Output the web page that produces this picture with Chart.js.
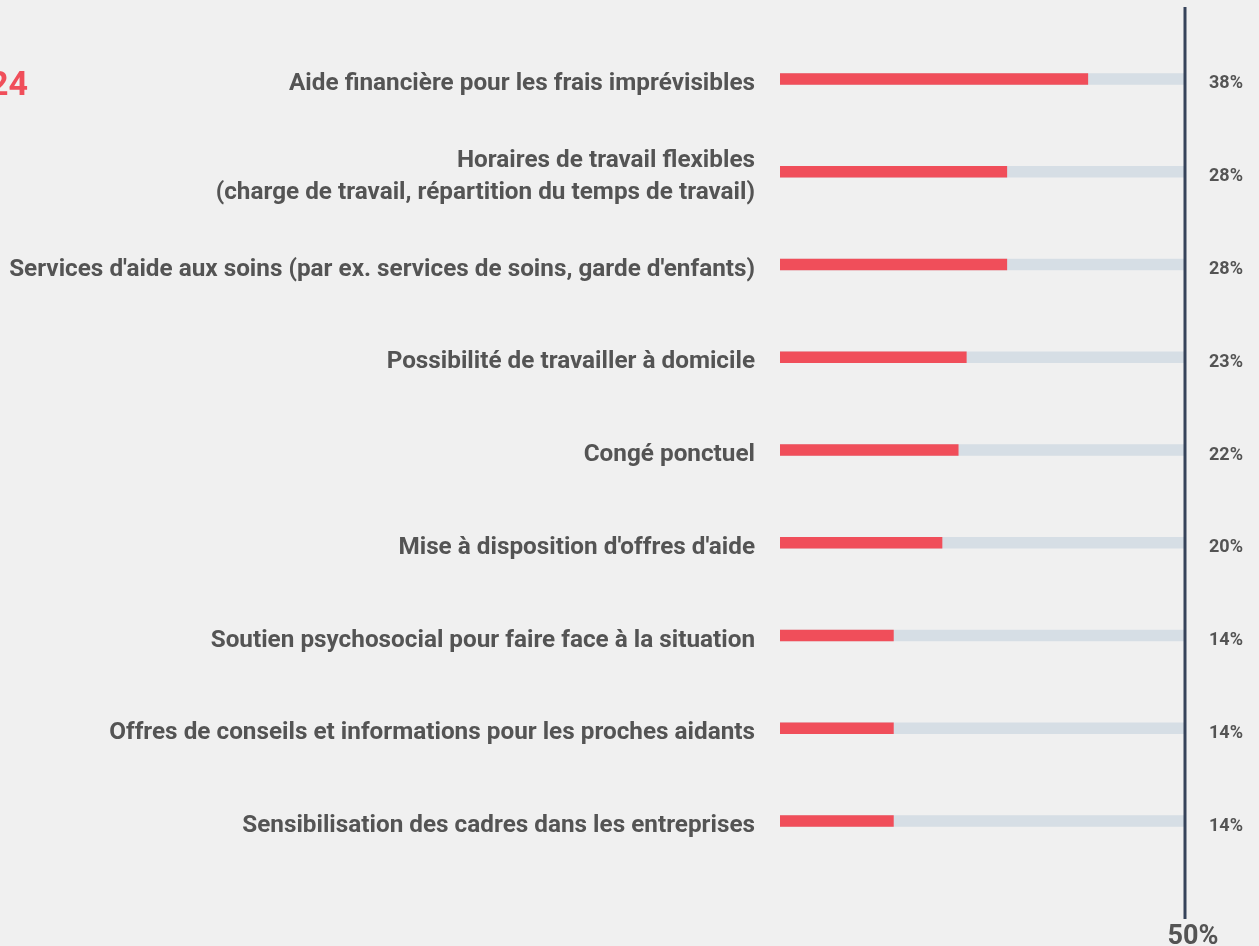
<!DOCTYPE html>
<html>
<head>
<meta charset="utf-8">
<script src="https://cdn.jsdelivr.net/npm/chart.js@4.4.0/dist/chart.umd.min.js"></script>
<style>
  html, body { margin: 0; padding: 0; background: #f0f0f0; }
  #marco { width: 1259px; height: 946px; }
</style>
</head>
<body>
<div id="marco"><canvas id="grafico"></canvas></div>
<script>
const categorias = [
    "Aide financière pour les frais imprévisibles",
    ["Horaires de travail flexibles", "(charge de travail, répartition du temps de travail)"],
    "Services d'aide aux soins (par ex. services de soins, garde d'enfants)",
    "Possibilité de travailler à domicile",
    "Congé ponctuel",
    "Mise à disposition d'offres d'aide",
    "Soutien psychosocial pour faire face à la situation",
    "Offres de conseils et informations pour les proches aidants",
    "Sensibilisation des cadres dans les entreprises"
];
const valores = [38, 28, 28, 23, 22, 20, 14, 14, 14];
const pista = [50, 50, 50, 50, 50, 50, 50, 50, 50];
const etiquetasValor = valores.map(v => v + "%");
const marcaMax = 50;

const rojo = "#f04e5a";
const gris = "#d6dee5";
const texto = "#545454";

// linea vertical del 50% y el "24" de arriba a la izquierda
const extras = {
    id: "extras",
    afterDatasetsDraw(chart) {
        const c = chart.ctx;
        const x = chart.scales.x.getPixelForValue(marcaMax);
        c.save();
        c.strokeStyle = "#36435a";
        c.lineWidth = 3;
        c.beginPath();
        c.moveTo(x, 7);
        c.lineTo(x, 919);
        c.stroke();
        c.restore();
    },
    afterDraw(chart) {
        const c = chart.ctx;
        c.save();
        c.fillStyle = rojo;
        c.font = "bold 34px Roboto";
        c.textAlign = "right";
        c.textBaseline = "alphabetic";
        c.fillText("24", 28, 95);
        c.restore();
    }
};

// medidas fijas de los ejes, sin el relleno extra que calcula chart.js
function fijarAncho(ancho) {
    return s => {
        s.width = ancho;
        s.paddingTop = 0;
        s.paddingBottom = 0;
    };
}

function fijarAlto(alto) {
    return s => {
        s.height = alto;
        s.paddingLeft = 0;
        s.paddingRight = 0;
    };
}

new Chart(document.getElementById("grafico"), {
    type: "bar",
    data: {
        labels: categorias,
        datasets: [
            {
                label: "Part",
                data: valores,
                backgroundColor: rojo,
                barThickness: 11,
                grouped: false,
                order: 0
            },
            {
                label: "Total",
                data: pista,
                backgroundColor: gris,
                barThickness: 11,
                grouped: false,
                order: 1
            }
        ]
    },
    options: {
        indexAxis: "y",
        responsive: true,
        maintainAspectRatio: false,
        animation: false,
        layout: { padding: { top: 32.6, left: 0, right: 0, bottom: 0 } },
        plugins: {
            legend: { display: false },
            tooltip: { enabled: false }
        },
        scales: {
            x: {
                min: 0,
                max: marcaMax,
                position: "bottom",
                grid: { display: false, drawTicks: false },
                border: { display: false },
                afterBuildTicks: s => { s.ticks = [{ value: marcaMax }]; },
                afterFit: fijarAlto(78.6),
                ticks: {
                    callback: v => v + "%",
                    font: { family: "Roboto", size: 27, weight: "bold" },
                    color: texto,
                    padding: 54,
                    labelOffset: 8
                }
            },
            y: {
                grid: { display: false, drawTicks: false },
                border: { display: false },
                afterFit: fijarAncho(780),
                ticks: {
                    font: { family: "Roboto", size: 24.3, weight: "bold", lineHeight: 1.33 },
                    color: texto,
                    padding: 25,
                    labelOffset: 5
                }
            },
            y2: {
                type: "category",
                labels: etiquetasValor,
                position: "right",
                offset: true,
                grid: { display: false, drawTicks: false },
                border: { display: false },
                afterFit: fijarAncho(74),
                ticks: {
                    font: { family: "Roboto", size: 18, weight: "bold" },
                    color: texto,
                    padding: 24,
                    labelOffset: 5
                }
            }
        }
    },
    plugins: [extras]
});
</script>
</body>
</html>
